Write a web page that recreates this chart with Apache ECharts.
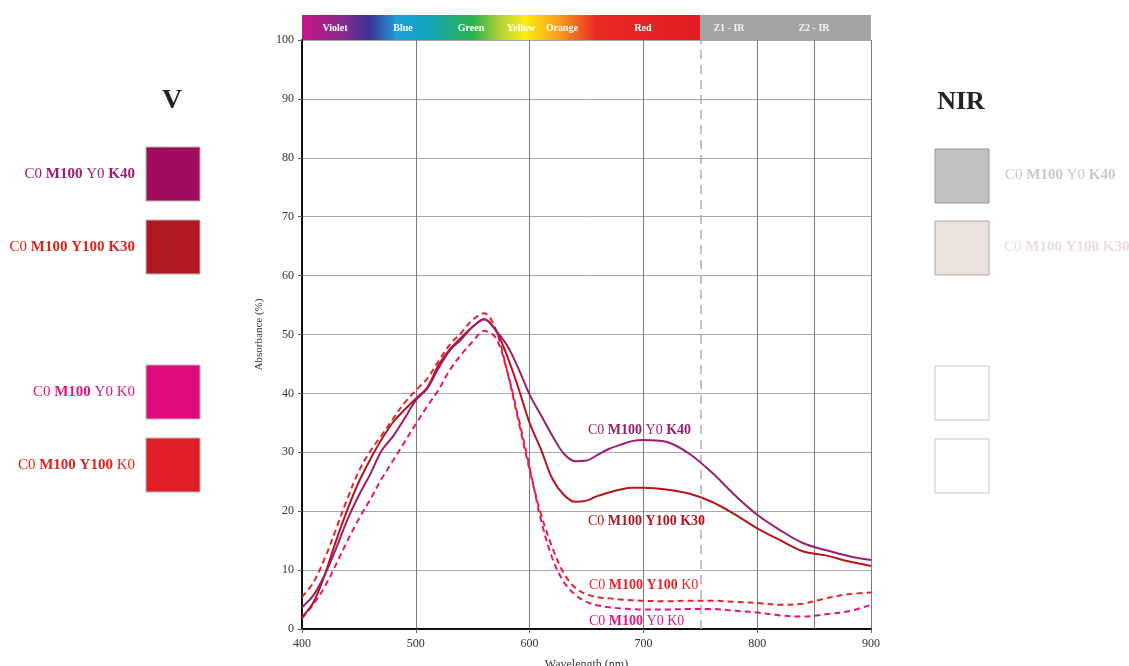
<!DOCTYPE html>
<html>
<head>
<meta charset="utf-8">
<script src="https://cdn.jsdelivr.net/npm/echarts@6/dist/echarts.min.js"></script>
<style>
html, body { margin: 0; padding: 0; background: #fff; }
#chart { width: 1129px; height: 666px; }
</style>
</head>
<body>
<div id="chart"></div>
<script>
// wavelengths (nm) shared by all four curves
var wavelengths = [400,410,420,430,440,450,460,470,480,490,500,510,520,530,540,550,560,570,580,590,600,
                   610,620,630,640,650,660,670,680,690,700,720,740,760,780,800,820,840,860,880,900];

// C0 M100 Y0 K40
var m100k40 = [3.7,5.7,9.2,13.7,18.6,22.7,26.3,30.3,32.7,35.7,38.8,40.8,44.3,47.3,49.2,51.3,52.6,50.8,48.2,44.3,39.8,
               36.3,32.8,29.8,28.5,28.6,29.6,30.6,31.3,31.9,32.1,31.8,29.8,26.6,22.8,19.4,16.8,14.6,13.4,12.4,11.7];
// C0 M100 Y100 K30
var m100y100k30 = [2.0,4.5,9.2,15.0,20.3,25.0,28.8,32.2,35.1,37.2,39.1,41.0,44.8,47.5,49.5,51.3,52.6,50.8,46.5,41.0,35.0,
                   30.5,25.5,22.8,21.6,21.8,22.6,23.2,23.7,24.0,24.0,23.7,23.0,21.6,19.5,17.1,15.1,13.2,12.5,11.5,10.7];
// C0 M100 Y100 K0
var m100y100k0 = [5.4,7.9,12.0,17.0,22.2,26.8,30.2,32.9,35.7,38.4,40.5,42.5,45.5,48.3,50.3,52.5,53.6,51.0,44.0,35.5,27.0,
                  19.5,13.8,9.5,7.0,5.9,5.4,5.2,5.0,4.9,4.8,4.7,4.8,4.8,4.6,4.4,4.1,4.3,5.2,5.9,6.2];
// C0 M100 Y0 K0
var m100k0 = [1.8,4.2,7.2,11.0,15.0,18.7,22.0,25.5,28.6,31.7,34.8,37.8,40.6,44.0,46.6,48.8,50.6,49.5,44.0,36.0,27.5,
              18.5,12.0,8.0,5.8,4.6,4.0,3.7,3.5,3.4,3.3,3.3,3.4,3.4,3.1,2.8,2.3,2.1,2.5,3.0,4.1];

var xTicks = [400, 500, 600, 700, 800, 900];
var zoneLines = [750, 850];
var spectrumNames = ['Violet', 'Blue', 'Green', 'Yellow', 'Orange', 'Red'];
var irNames = ['Z1 - IR', 'Z2 - IR'];

var serif = '"Liberation Serif", "DejaVu Serif", serif';

function pairs(vals) {
    return wavelengths.map(function (w, i) { return [w, vals[i]]; });
}

var chart = echarts.init(document.getElementById('chart'));

function rich(c, size) {
    return {
        n: { fontFamily: serif, fontSize: size, fill: c, fontWeight: 'normal' },
        b: { fontFamily: serif, fontSize: size, fill: c, fontWeight: 'bold' }
    };
}
function label(x, y, txt, color, align, size) {
    size = size || 15;
    return {
        type: 'text', x: x, y: y, z: 100,
        style: { text: txt, rich: rich(color, size), align: align, verticalAlign: 'middle', fill: color,
                 fontFamily: serif, fontSize: size }
    };
}
function square(x, y, fill, stroke) {
    return { type: 'rect', shape: { x: x, y: y, width: 54, height: 54 },
             style: { fill: fill, stroke: stroke || '#b8b8b8', lineWidth: 1 } };
}

var graphics = [
    // spectrum bar
    { type: 'rect', shape: { x: 302, y: 15, width: 398, height: 25 },
      style: { fill: new echarts.graphic.LinearGradient(0, 0, 1, 0, [
          { offset: 0, color: '#c8168a' },
          { offset: 0.1, color: '#8a2a8e' },
          { offset: 0.17, color: '#3b3292' },
          { offset: 0.24, color: '#1e9fdc' },
          { offset: 0.32, color: '#10a6b8' },
          { offset: 0.43, color: '#2eb24c' },
          { offset: 0.5, color: '#b5d334' },
          { offset: 0.56, color: '#fbee10' },
          { offset: 0.64, color: '#f7a21b' },
          { offset: 0.74, color: '#ea2a26' },
          { offset: 1, color: '#e11b24' }
      ]) } },
    { type: 'rect', shape: { x: 700, y: 15, width: 171, height: 25 }, style: { fill: '#a4a4a4' } },
    // headings
    { type: 'text', x: 172, y: 101, style: { text: 'V', fontFamily: serif, fontSize: 28, fontWeight: 'bold',
      fill: '#222', align: 'center', verticalAlign: 'middle' } },
    { type: 'text', x: 961, y: 102, style: { text: 'NIR', fontFamily: serif, fontSize: 26, fontWeight: 'bold',
      fill: '#222', align: 'center', verticalAlign: 'middle' } },
    // left swatches
    square(146, 147, '#a00d5f'),
    square(146, 220, '#b0191f'),
    square(146, 365, '#e1097e'),
    square(146, 438, '#e11d25'),
    label(135, 174, '{n|C0 }{b|M100}{n| Y0 }{b|K40}', '#9b1d6e', 'right'),
    label(135, 247, '{n|C0 }{b|M100 Y100 K30}', '#e2231a', 'right'),
    label(135, 392, '{n|C0 }{b|M100}{n| Y0 K0}', '#e5157f', 'right'),
    label(135, 465, '{n|C0 }{b|M100 Y100}{n| K0}', '#e2231a', 'right'),
    // right swatches
    square(935, 149, '#c1c1c3', '#999'),
    square(935, 221, '#ebe1dd', '#aaa'),
    square(935, 366, '#ffffff', '#c8c4c4'),
    square(935, 439, '#ffffff', '#c8c4c4'),
    label(1005, 175, '{n|C0 }{b|M100}{n| Y0 }{b|K40}', '#c9c9c9', 'left'),
    label(1004, 247, '{n|C0 }{b|M100 Y100 K30}', '#eedcd8', 'left'),
    // curve labels
    label(588, 430, '{n|C0 }{b|M100}{n| Y0 }{b|K40}', '#9b1d6e', 'left', 14),
    label(588, 521, '{n|C0 }{b|M100 Y100 K30}', '#b3151d', 'left', 14),
    label(589, 585, '{n|C0 }{b|M100 Y100}{n| K0}', '#e8242a', 'left', 14),
    label(589, 621, '{n|C0 }{b|M100}{n| Y0 K0}', '#e5157f', 'left', 14)
];

var bandCenters = [335, 403, 471, 521, 562, 643];
spectrumNames.forEach(function (n, i) {
    graphics.push({ type: 'text', x: bandCenters[i], y: 28, z: 10,
        style: { text: n, fontFamily: serif, fontSize: 10, fontWeight: 'bold', fill: '#fff',
                 align: 'center', verticalAlign: 'middle' } });
});
var irCenters = [729, 814];
irNames.forEach(function (n, i) {
    graphics.push({ type: 'text', x: irCenters[i], y: 28, z: 10,
        style: { text: n, fontFamily: serif, fontSize: 10, fontWeight: 'bold', fill: '#f4f4f4',
                 align: 'center', verticalAlign: 'middle' } });
});

function line(name, vals, color, dashed) {
    return {
        name: name, type: 'line', data: pairs(vals), smooth: 0.35, symbol: 'none',
        lineStyle: { color: color, width: 2, type: dashed ? [6, 4] : 'solid' },
        z: 5
    };
}

var series = [
    line('C0 M100 Y0 K0', m100k0, '#e5157f', true),
    line('C0 M100 Y100 K0', m100y100k0, '#e8242a', true),
    line('C0 M100 Y100 K30', m100y100k30, '#b3151d', false),
    line('C0 M100 Y0 K40', m100k40, '#9b1d6e', false)
];
series[0].markLine = {
    silent: true, symbol: 'none', label: { show: false },
    data: [
        { xAxis: zoneLines[0], lineStyle: { color: '#b0b0b0', type: [9, 6], width: 1.5 } },
        { xAxis: zoneLines[1], lineStyle: { color: '#7a7a7a', type: 'solid', width: 1 } }
    ]
};

chart.setOption({
    backgroundColor: '#fff',
    animation: false,
    textStyle: { fontFamily: serif },
    grid: { left: 302, top: 40, width: 569, height: 589, containLabel: false, outerBoundsMode: 'none' },
    xAxis: {
        type: 'value', min: xTicks[0], max: xTicks[xTicks.length - 1], interval: 100,
        name: 'Wavelength (nm)', nameLocation: 'middle', nameGap: 30,
        nameTextStyle: { fontFamily: serif, fontSize: 12, color: '#333' },
        axisLine: { lineStyle: { color: '#111', width: 2 } },
        axisTick: { show: true, length: 4, lineStyle: { color: '#666' } },
        axisLabel: { fontFamily: serif, fontSize: 12, color: '#333', margin: 9 },
        splitLine: { show: true, lineStyle: { color: '#7a7a7a', width: 1 } }
    },
    yAxis: {
        type: 'value', min: 0, max: 100, interval: 10,
        name: 'Absorbance (%)', nameLocation: 'middle', nameGap: 32, nameRotate: 90,
        nameTextStyle: { fontFamily: serif, fontSize: 11, color: '#333' },
        axisLine: { show: true, lineStyle: { color: '#111', width: 2 } },
        axisTick: { show: true, length: 4, lineStyle: { color: '#666' } },
        axisLabel: { fontFamily: serif, fontSize: 12, color: '#333', margin: 8 },
        splitLine: { show: true, lineStyle: { color: '#a8a8a8', width: 1 } }
    },
    graphic: graphics,
    series: series
});
</script>
</body>
</html>
